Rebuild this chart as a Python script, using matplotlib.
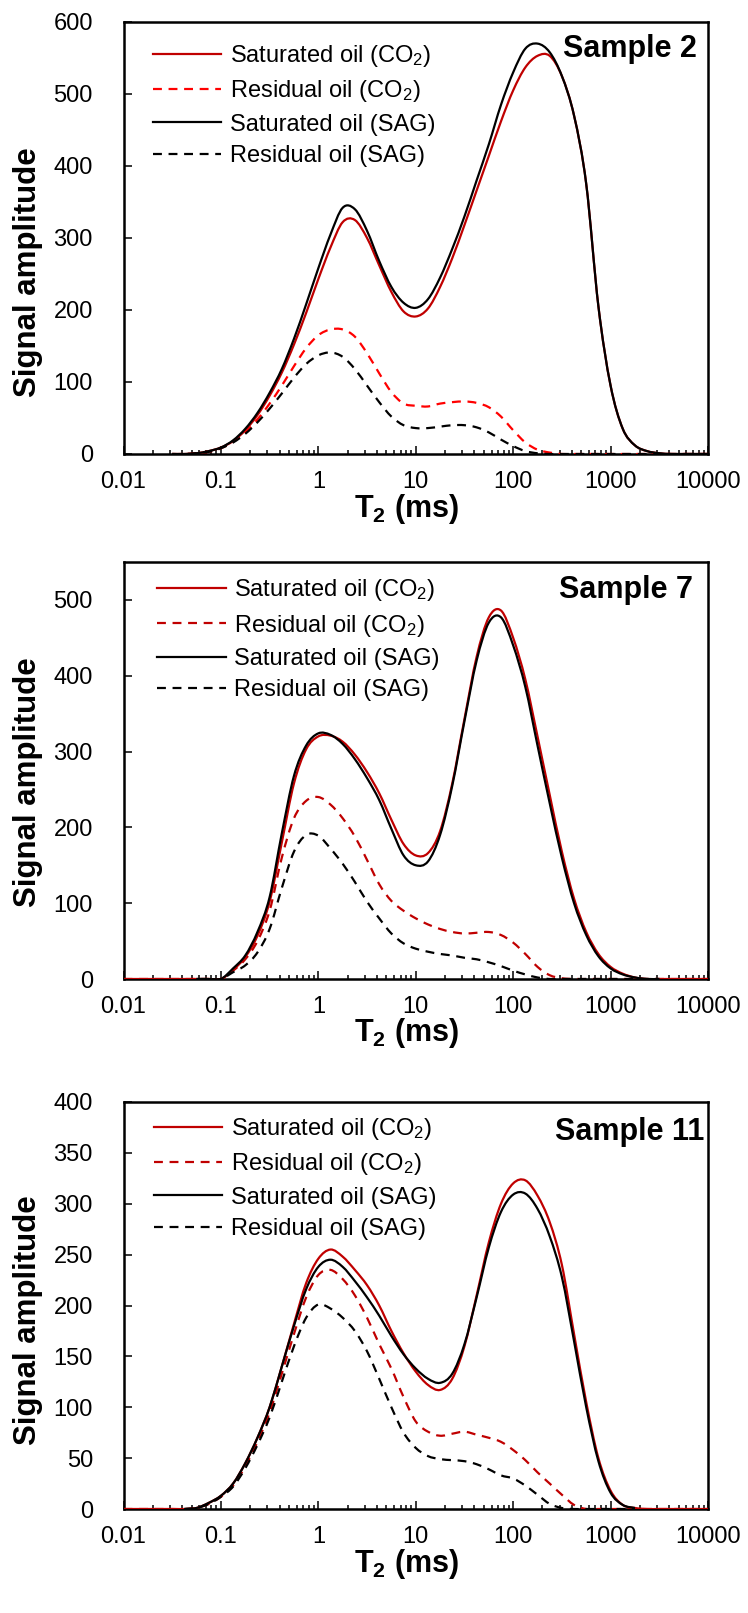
import numpy as np
import matplotlib
matplotlib.use('Agg')
import matplotlib.pyplot as plt
from matplotlib.path import Path
from matplotlib.patches import PathPatch
from matplotlib.lines import Line2D
from matplotlib.ticker import FixedLocator, FixedFormatter, LogLocator, NullFormatter

plt.rcParams['font.family'] = ['Liberation Sans', 'DejaVu Sans']
plt.rcParams['mathtext.fontset'] = 'custom'
plt.rcParams['mathtext.rm'] = 'Liberation Sans'
plt.rcParams['mathtext.it'] = 'Liberation Sans:italic'
plt.rcParams['mathtext.bf'] = 'Liberation Sans:bold'

# ---------------- data ----------------
# T2 grid (ms), 8 points per decade
T2 = [0.01, 0.01334, 0.01778, 0.02371, 0.03162, 0.04217, 0.05623, 0.07499,
      0.1, 0.1334, 0.1778, 0.2371, 0.3162, 0.4217, 0.5623, 0.7499,
      1.0, 1.334, 1.778, 2.371, 3.162, 4.217, 5.623, 7.499,
      10.0, 13.34, 17.78, 23.71, 31.62, 42.17, 56.23, 74.99,
      100.0, 133.4, 177.8, 237.1, 316.2, 421.7, 562.3, 749.9,
      1000.0, 1334.0, 1778.0, 2371.0, 3162.0, 4217.0, 5623.0, 7499.0, 10000.0]
T2_s2 = T2[4:]

labels = ['Saturated oil (CO$_2$)', 'Residual oil (CO$_2$)',
          'Saturated oil (SAG)', 'Residual oil (SAG)']
xtick_vals = [0.01, 0.1, 1, 10, 100, 1000, 10000]
xtick_labels = ['0.01', '0.1', '1', '10', '100', '1000', '10000']

# None = no data point recorded at that T2
# Sample 2
s2_sat_co2 = [0, 0, 1, 4, 9, 18, 33, 54, 81, 113, 152, 196, 243, 287, 322, 325, 300, 262, 225, 198,
              191, 202, 232, 272, 318, 366, 414, 462, 505, 537, 553, 553, 525, 470, 375, 205, 95, 35, 12, 4,
              1, 0, 0, 0, 0]
s2_res_co2 = [0, 0, 1, 3, 8, 17, 30, 48, 70, 95, 122, 147, 165, 173, 173, 163, 140, 112, 86, 70,
              67, 66, 70, 72, 73, 71, 65, 52, 33, 16, 6, 2, 0, 0, 0, 0, 0, 0, 0, 0,
              0, 0, 0, 0, 0]
s2_sat_sag = [0, 0, 1, 4, 9, 19, 35, 57, 85, 118, 160, 208, 258, 305, 342, 340, 310, 268, 232, 210,
              203, 215, 245, 285, 330, 380, 430, 485, 530, 563, 570, 558, 525, 470, 375, 205, 95, 35, 12, 4,
              1, 0, 0, 0, 0]
s2_res_sag = [0, 0, 1, 3, 8, 16, 28, 44, 63, 84, 106, 125, 137, 141, 135, 118, 95, 72, 52, 40,
              36, 36, 38, 40, 40, 37, 30, 20, 11, 4, 1, 0, 0, 0, 0, 0, 0, 0, 0, 0,
              0, 0, 0, 0, 0]

# Sample 7
s7_sat_co2 = [0, 0, 0, 0, 0, 0, 0, 0,
              0, 12, 29, 57, 102, 180, 258, 303, 320, 321, 313, 296, 273, 245, 210, 178,
              163, 166, 195, 258, 343, 425, 477, 486, 450, 395, 320, 243, 168, 106, 62, 33,
              16, 7, 2, 0, 0, 0, 0, 0, 0]
s7_res_co2 = [0, 0, 0, 0, 0, 0, 0, 0,
              0, 11, 26, 50, 90, 160, 212, 235, 240, 230, 212, 188, 157, 125, 103, 90,
              80, 72, 66, 62, 60, 61, 62, 58, 48, 33, 16, 5, 1, 0, 0, 0,
              0, 0, 0, 0, 0, 0, 0, 0, 0]
s7_sat_sag = [None, None, None, None, None, None, 0, 0,
              0, 14, 31, 62, 108, 192, 268, 308, 324, 322, 310, 290, 265, 236, 198, 163,
              150, 155, 190, 255, 340, 420, 470, 477, 440, 385, 308, 232, 160, 100, 58, 30,
              14, 6, 2, 0, 0, None, None, None, None]
s7_res_sag = [None, None, None, None, None, None, 0, 0,
              0, 9, 18, 35, 66, 120, 168, 190, 189, 172, 152, 128, 102, 80, 60, 47,
              40, 36, 33, 31, 28, 26, 22, 17, 11, 6, 2, 0, 0, 0, 0, 0,
              0, 0, 0, 0, 0, None, None, None, None]

# Sample 11
s11_sat_co2 = [0, 0, 0, 0, 0, 0,
               1, 6, 13, 25, 45, 70, 100, 140, 182, 222, 246, 255, 248, 235, 220, 200, 175, 153,
               135, 122, 117, 128, 160, 210, 262, 300, 320, 323, 308, 282, 240, 172, 105, 50,
               18, 4, 1, 0, 0, 0, 0, 0, 0]
s11_res_co2 = [0, 0, 0, 0, 0, 0,
               1, 5, 12, 23, 42, 66, 95, 133, 172, 208, 230, 235, 226, 210, 188, 162, 138, 110,
               86, 76, 72, 74, 76, 73, 70, 66, 58, 48, 36, 25, 14, 4, 0, 0,
               0, 0, 0, 0, 0, 0, 0, 0, 0]
s11_sat_sag = [None, None, None, None, None, 0,
               1, 6, 13, 25, 45, 70, 100, 140, 180, 216, 238, 245, 238, 224, 208, 190, 170, 152,
               138, 128, 124, 133, 162, 208, 257, 292, 309, 310, 295, 268, 228, 165, 100, 47,
               16, 4, 1, None, None, None, None, None, None]
s11_res_sag = [None, None, None, None, None, 0,
               1, 5, 12, 22, 40, 63, 90, 125, 160, 188, 201, 197, 188, 175, 155, 128, 100, 75,
               60, 52, 49, 48, 47, 44, 39, 33, 30, 23, 14, 5, 1, 0, 0, 0,
               0, 0, 0, None, None, None, None, None, None]


def smooth_path(x, y):
    """Excel-style smoothed line: cubic Bezier segments through every data point
    (Catmull-Rom tangents computed in log10(T2) space)."""
    keep = [i for i, v in enumerate(y) if v is not None]
    u = np.log10(np.asarray([x[i] for i in keep], float))
    pts = np.column_stack([u, np.asarray([y[i] for i in keep], float)])
    n = len(pts)
    verts = [pts[0]]
    codes = [Path.MOVETO]
    for i in range(n - 1):
        p0 = pts[i - 1] if i > 0 else pts[i]
        p1 = pts[i]
        p2 = pts[i + 1]
        p3 = pts[i + 2] if i + 2 < n else pts[i + 1]
        verts += [p1 + (p2 - p0) / 6.0, p2 - (p3 - p1) / 6.0, p2]
        codes += [Path.CURVE4] * 3
    verts = np.array(verts)
    verts[:, 0] = 10 ** verts[:, 0]
    return Path(verts, codes)


# ---------------- figure ----------------
W, H = 748, 1613
fig = plt.figure(figsize=(W / 100, H / 100), dpi=100)

panels = [
    dict(top=22, bottom=454, x=T2_s2, series=[s2_sat_co2, s2_res_co2, s2_sat_sag, s2_res_sag],
         dash_red='#FF0000', ymax=600, yticks=np.arange(0, 601, 100), title='Sample 2',
         leg=(0.0505, 0.951), tpos=(0.981, 0.919), ylab_y=0.42, xlab_y=-0.088),
    dict(top=562, bottom=979, x=T2, series=[s7_sat_co2, s7_res_co2, s7_sat_sag, s7_res_sag],
         dash_red='#C00000', ymax=550, yticks=np.arange(0, 501, 100), title='Sample 7',
         leg=(0.0575, 0.963), tpos=(0.974, 0.914), ylab_y=0.472, xlab_y=-0.089),
    dict(top=1102, bottom=1509, x=T2, series=[s11_sat_co2, s11_res_co2, s11_sat_sag, s11_res_sag],
         dash_red='#C00000', ymax=400, yticks=np.arange(0, 401, 50), title='Sample 11',
         leg=(0.052, 0.965), tpos=(0.993, 0.907), ylab_y=0.464, xlab_y=-0.093),
]

LW = 1.6
DASH = (0, (4, 3))
left, right = 123.5, 708.0
for p in panels:
    ax = fig.add_axes([left / W, 1 - p['bottom'] / H, (right - left) / W, (p['bottom'] - p['top']) / H])
    styles = [dict(color='#C00000', ls='-'),
              dict(color=p['dash_red'], ls=DASH),
              dict(color='black', ls='-'),
              dict(color='black', ls=DASH)]
    handles = []
    for ys, st, lab in zip(p['series'], styles, labels):
        patch = PathPatch(smooth_path(p['x'], ys), transform=ax.transData, fill=False,
                          edgecolor=st['color'], linestyle=st['ls'], lw=LW, zorder=3,
                          joinstyle='round', capstyle='butt')
        ax.add_patch(patch)
        handles.append(Line2D([], [], color=st['color'], linestyle=st['ls'], lw=LW, label=lab))
    ax.set_xscale('log')
    ax.set_xlim(0.01, 10000)
    ax.set_ylim(0, p['ymax'])
    ax.xaxis.set_major_locator(FixedLocator(xtick_vals))
    ax.xaxis.set_major_formatter(FixedFormatter(xtick_labels))
    ax.xaxis.set_minor_locator(LogLocator(base=10, subs=np.arange(2, 10)))
    ax.xaxis.set_minor_formatter(NullFormatter())
    ax.set_yticks(p['yticks'])
    ax.tick_params(axis='both', which='both', direction='in', width=1.1, labelsize=17)
    ax.tick_params(axis='x', which='major', length=5.5, pad=12)
    ax.tick_params(axis='x', which='minor', length=2.8)
    ax.tick_params(axis='y', which='major', length=5.5, pad=22)
    for sp in ax.spines.values():
        sp.set_linewidth(1.8)
    ax.legend(handles=handles, loc='upper left', bbox_to_anchor=p['leg'], frameon=False,
              fontsize=17, handlelength=2.9, handletextpad=0.35, labelspacing=0.39,
              borderpad=0, borderaxespad=0)
    ax.text(p['tpos'][0], p['tpos'][1], p['title'], transform=ax.transAxes, ha='right',
            va='baseline', fontsize=22, fontweight='bold')
    ax.set_xlabel(r'T$_\mathbf{2}$ (ms)', fontsize=22, fontweight='bold')
    ax.xaxis.set_label_coords(0.485, p['xlab_y'])
    ax.set_ylabel('Signal amplitude', fontsize=22.5, fontweight='bold')
    ax.yaxis.set_label_coords(-0.163, p['ylab_y'])
    ax.yaxis.label.set_verticalalignment('center')

fig.savefig('out.png', dpi=100)
